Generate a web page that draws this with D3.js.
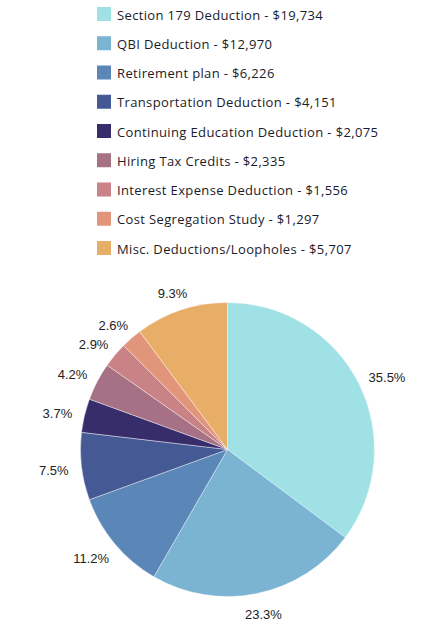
<!DOCTYPE html>
<html>
<head>
  <style type="text/css">
    body { margin: 0; background: #fff; }
    .legend text {
      font: 13px "Open Sans", sans-serif;
      letter-spacing: 0.36px;
      fill: #1b1b2a;
    }
    .pct {
      font: 13px "Liberation Sans", Arial, sans-serif;
      fill: #222;
    }
  </style>
</head>
<body>

  <div class="svg_container"></div>

  <script src="https://cdnjs.cloudflare.com/ajax/libs/d3/7.8.5/d3.min.js"></script>
  <script type="text/javascript">
    // data
    var categories = [
      "Section 179 Deduction",
      "QBI Deduction",
      "Retirement plan",
      "Transportation Deduction",
      "Continuing Education Deduction",
      "Hiring Tax Credits",
      "Interest Expense Deduction",
      "Cost Segregation Study",
      "Misc. Deductions/Loopholes"
    ];
    var amounts = [19734, 12970, 6226, 4151, 2075, 2335, 1556, 1297, 5707];
    // the labels printed on the slices (they don't quite match the amounts)
    var pctLabels = ["35.5%", "23.3%", "11.2%", "7.5%", "3.7%", "4.2%", "2.9%", "2.6%", "9.3%"];
    var colors = ["#9fe1e5", "#7bb3d2", "#5b87b8", "#455a94", "#372d6b",
                  "#a67185", "#c98286", "#e1957b", "#e8ae67"];

    var width = 447, height = 632;
    var cx = 227.5, cy = 449.5, radius = 147;

    var svg = d3.select(".svg_container").append("svg")
      .attr("width", width)
      .attr("height", height);

    // legend
    var fmt = d3.format("$,");
    var legend = svg.append("g")
      .attr("class", "legend")
      .attr("transform", "translate(97,7)");

    var row = legend.selectAll("g")
      .data(categories)
      .enter().append("g")
      .attr("transform", function(d, i) { return "translate(0," + (i * 29.25) + ")"; });

    row.append("rect")
      .attr("width", 14)
      .attr("height", 14)
      .attr("fill", function(d, i) { return colors[i]; });

    row.append("text")
      .attr("x", 20)
      .attr("y", 7.5)
      .attr("dominant-baseline", "central")
      .text(function(d, i) { return d + " - " + fmt(amounts[i]); });

    // pie
    var pie = d3.pie().sort(null)(amounts);
    var arc = d3.arc().innerRadius(0).outerRadius(radius);

    var g = svg.append("g")
      .attr("transform", "translate(" + cx + "," + cy + ")");

    g.selectAll("path")
      .data(pie)
      .enter().append("path")
      .attr("d", arc)
      .attr("fill", function(d, i) { return colors[i]; })
      .attr("stroke", "#fff")
      .attr("stroke-width", 0.4);

    // labels sit just outside the rim, pushed out by half their box
    var r0 = 160;
    g.selectAll(".pct")
      .data(pie)
      .enter().append("text")
      .attr("class", "pct")
      .attr("text-anchor", "middle")
      .attr("dominant-baseline", "central")
      .text(function(d, i) { return pctLabels[i]; })
      .attr("x", function(d) {
        var a = (d.startAngle + d.endAngle) / 2;
        return Math.sin(a) * r0 + Math.sin(a) * this.getComputedTextLength() / 2;
      })
      .attr("y", function(d) {
        var a = (d.startAngle + d.endAngle) / 2;
        return -Math.cos(a) * r0 - Math.cos(a) * 6 + 2;
      });
  </script>

</body>
</html>
